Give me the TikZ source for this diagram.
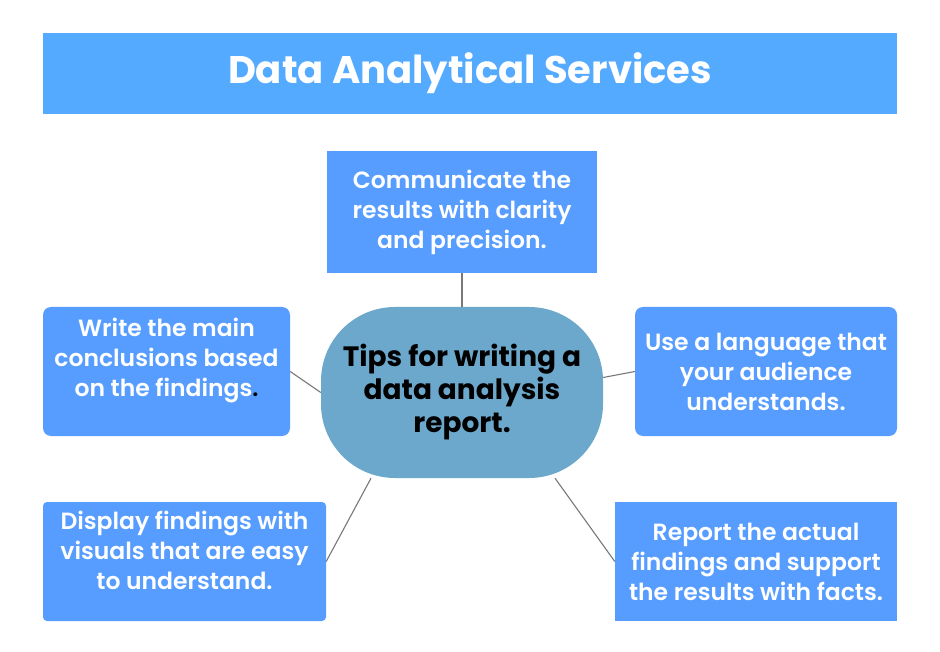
\documentclass[tikz,border=0pt]{standalone}
\usepackage{fontspec}
\setmainfont{Poppins}
\newfontfamily\semifont{Poppins SemiBold}
\definecolor{titleblue}{RGB}{84,170,255}
\definecolor{boxblue}{RGB}{86,157,255}
\definecolor{tipsblue}{RGB}{108,168,204}
\definecolor{linegray}{RGB}{120,120,120}
\begin{document}
\begin{tikzpicture}[x=1pt,y=-1pt,
  tipbox/.style={fill=boxblue, text=white, align=center, inner sep=0pt,
    font=\semifont\fontsize{23.5}{30}\selectfont},
  link/.style={draw=linegray, line width=1.1pt}]

% Fondo
\useasboundingbox[fill=white] (0,0) rectangle (940,652);

% Titulo
\node[fill=titleblue, minimum width=854pt, minimum height=81pt, text=white,
  font=\fontsize{38.5}{40}\selectfont\bfseries] (title) at (470,73.5) {Data Analytical Services};

% Centro
\node[fill=tipsblue, rounded corners=74pt, minimum width=282pt, minimum height=171pt,
  align=center, font=\fontsize{28}{33}\selectfont\bfseries] (tips) at (462,392.5)
  {Tips for writing a\\data analysis\\report.};

% Recuadros
\node[tipbox, minimum width=270pt, minimum height=122pt] (comm) at (462,212)
  {Communicate the\\results with clarity\\and precision.};
\node[tipbox, rounded corners=8pt, minimum width=247pt, minimum height=129pt] (concl) at (166.5,371.5)
  {Write the main\\conclusions based\\on the findings{\color{black}.}\\[-10pt]\strut};
\node[tipbox, rounded corners=8pt, minimum width=262pt, minimum height=129pt] (lang) at (766,371.5)
  {Use a language that\\your audience\\understands.};
\node[tipbox, rounded corners=4pt, minimum width=283pt, minimum height=119pt] (visual) at (184.5,561.5)
  {Display findings with\\visuals that are easy\\to understand.\\[-16pt]\strut};
\node[tipbox, minimum width=282pt, minimum height=119pt] (facts) at (756,561.5)
  {Report the actual\\findings and support\\the results with facts.};

% Lineas
\draw[link] (tips.north) -- (comm.south);
\draw[link] (tips.west) -- (concl.east);
\draw[link] ([yshift=15pt]tips.east) -- (lang.west);
\draw[link] ([xshift=-91pt]tips.south) -- (visual.east);
\draw[link] ([xshift=93pt]tips.south) -- (facts.west);

\end{tikzpicture}
\end{document}
